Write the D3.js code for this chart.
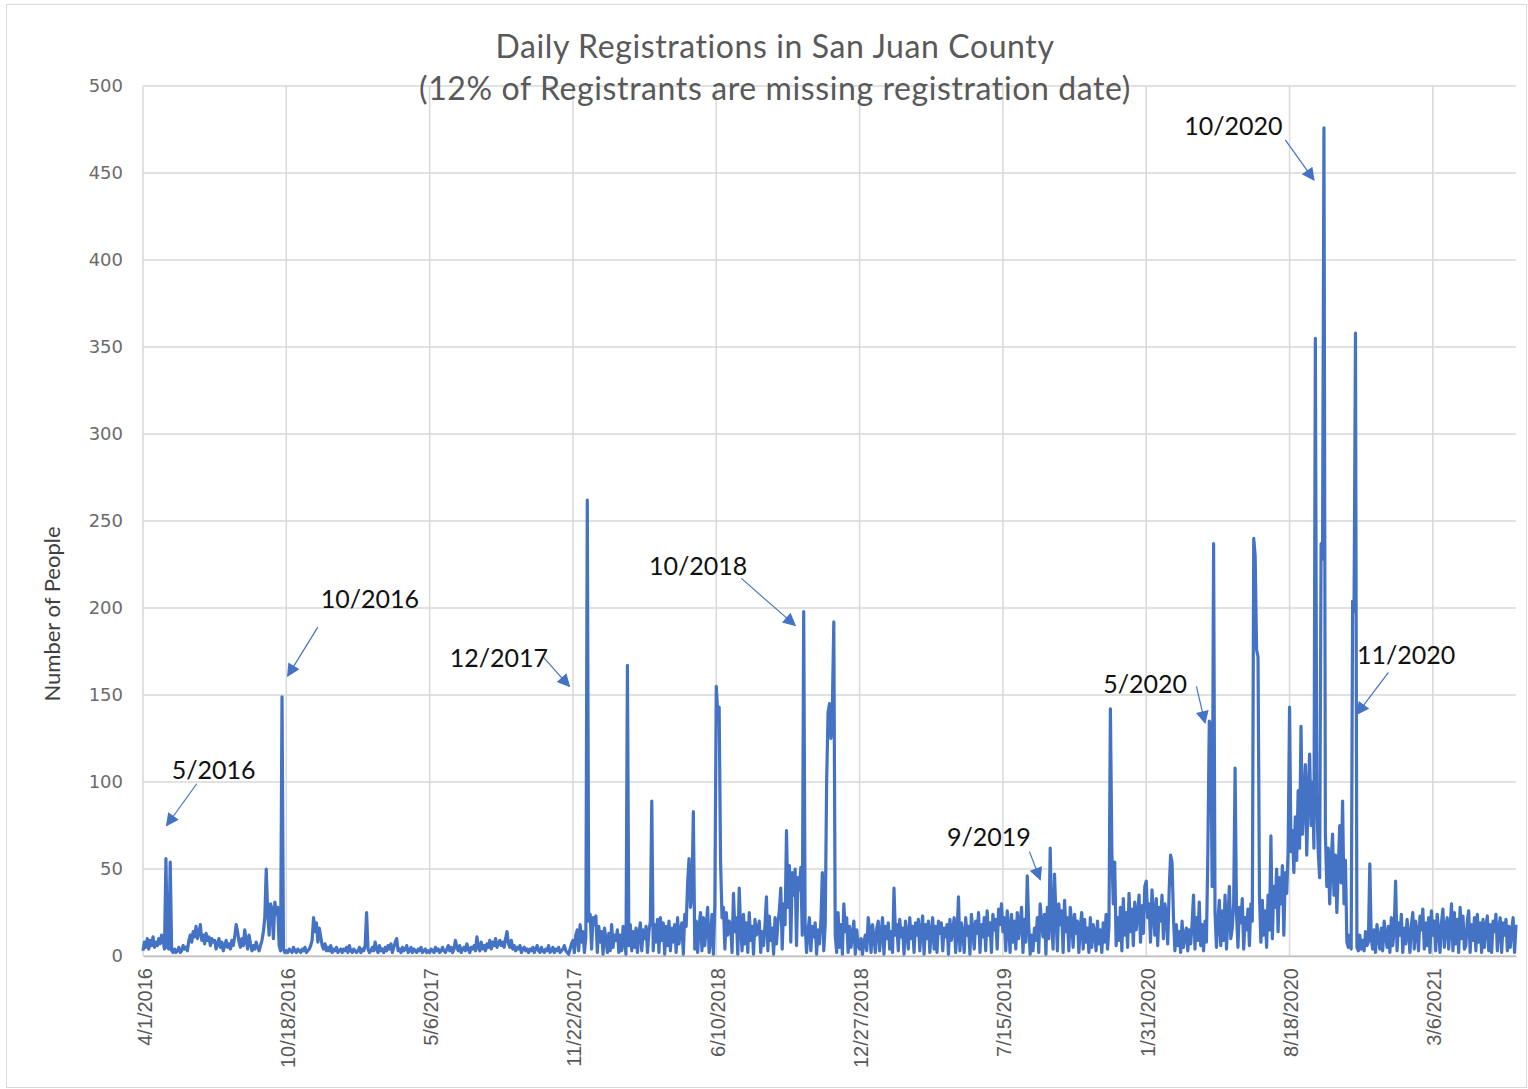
<!DOCTYPE html>
<html>
<head>
<meta charset="UTF-8">
<title>Daily Registrations in San Juan County</title>
<script src="https://cdn.jsdelivr.net/npm/d3@7"></script>
<style>
  body { margin: 0; background: #fff; }
</style>
</head>
<body>
<div id="chart"></div>
<script>

// Registrations, one reading every 2 days, starting 4/1/2016
// one array per 200-day stretch between the axis ticks

var startDate = "2016-04-01";
var stepDays = 2;

var reg_2016a = [
  3, 8, 5, 10, 4, 9, 6, 11, 5, 8,
  6, 10, 7, 12, 9, 4, 56, 5, 4, 54,
  3, 2, 4, 2, 3, 5, 2, 3, 6, 4,
  5, 3, 9, 12, 8, 14, 11, 17, 10, 13,
  18, 9, 12, 7, 13, 9, 11, 6, 10, 8,
  9, 4, 7, 10, 5, 8, 3, 6, 9, 5,
  7, 4, 9, 6, 11, 18, 14, 8, 5, 10,
  6, 15, 9, 4, 12, 7, 3, 6, 4, 8,
  5, 3, 6, 9, 14, 22, 50, 25, 12, 30,
  27, 10, 31, 24, 28, 6, 3, 149, 4, 2
];
var reg_2016b = [
  3, 2, 4, 3, 2, 5, 3, 2, 4, 3,
  2, 4, 3, 5, 2, 3, 4, 6, 9, 22,
  14, 19, 8, 16, 11, 6, 4, 7, 3, 5,
  3, 6, 2, 4, 3, 5, 2, 3, 4, 2,
  4, 3, 5, 2, 6, 3, 2, 4, 3, 2,
  3, 5, 2, 4, 3, 6, 25, 4, 2, 3,
  5, 3, 8, 4, 2, 6, 3, 4, 2, 5,
  3, 6, 4, 7, 2, 5, 8, 10, 3, 4,
  2, 5, 3, 4, 6, 2, 3, 5, 2, 4,
  3, 2, 4, 3, 5, 2, 3, 4, 2, 3
];
var reg_2017a = [
  2, 4, 3, 2, 5, 3, 4, 2, 3, 5,
  3, 2, 4, 6, 3, 5, 2, 4, 9, 5,
  3, 6, 2, 4, 5, 3, 7, 4, 2, 5,
  4, 6, 3, 11, 5, 3, 8, 4, 6, 3,
  7, 5, 9, 4, 8, 6, 10, 5, 7, 9,
  6, 8, 5, 10, 14, 7, 5, 9, 4, 6,
  3, 5, 4, 6, 2, 4, 5, 3, 4, 2,
  4, 3, 5, 2, 4, 6, 3, 2, 5, 3,
  2, 4, 3, 6, 2, 3, 5, 2, 4, 3,
  5, 2, 3, 4, 6, 3, 2, 1, 4, 7
];
var reg_2017b = [
  9, 2, 12, 15, 3, 18, 8, 14, 2, 11,
  262, 20, 24, 4, 22, 18, 23, 2, 17, 8,
  14, 1, 16, 10, 2, 13, 3, 18, 5, 12,
  9, 15, 2, 12, 3, 17, 8, 1, 167, 6,
  18, 3, 14, 5, 16, 2, 13, 19, 3, 15,
  10, 17, 2, 14, 20, 89, 3, 18, 8, 21,
  2, 22, 9, 19, 1, 17, 6, 20, 3, 16,
  8, 18, 2, 22, 7, 15, 19, 1, 24, 17,
  42, 56, 28, 35, 83, 4, 20, 2, 17, 25,
  3, 22, 6, 18, 28, 2, 9, 24, 1, 30
];
var reg_2018a = [
  155, 140, 143, 54, 22, 28, 4, 25, 12, 20,
  18, 2, 36, 14, 22, 1, 39, 16, 3, 24,
  7, 19, 2, 25, 9, 17, 1, 21, 12, 15,
  20, 2, 14, 6, 18, 34, 3, 23, 9, 16,
  1, 22, 7, 19, 26, 39, 4, 30, 18, 72,
  28, 52, 8, 48, 35, 50, 6, 45, 38, 51,
  12, 198, 18, 2, 14, 22, 3, 17, 11, 19,
  1, 15, 7, 20, 48, 3, 18, 100, 140, 145,
  125, 143, 192, 12, 2, 25, 5, 18, 1, 30,
  14, 22, 2, 17, 5, 12, 20, 1, 15, 6
];
var reg_2018b = [
  4, 10, 1, 8, 12, 3, 22, 15, 2, 18,
  11, 2, 16, 20, 3, 13, 22, 1, 17, 10,
  19, 4, 14, 2, 39, 12, 18, 3, 21, 11,
  16, 1, 20, 13, 4, 22, 10, 17, 2, 19,
  12, 21, 3, 15, 23, 1, 18, 10, 20, 2,
  14, 22, 4, 17, 2, 20, 13, 19, 3, 16,
  11, 18, 1, 21, 9, 15, 22, 2, 13, 34,
  3, 19, 14, 2, 22, 12, 17, 1, 24, 15,
  4, 20, 13, 25, 2, 18, 11, 22, 3, 26,
  12, 19, 2, 24, 15, 21, 4, 27, 18, 30
];
var reg_2019 = [
  14, 22, 3, 26, 17, 2, 24, 8, 20, 4,
  25, 10, 19, 28, 2, 21, 8, 46, 18, 1,
  12, 3, 16, 9, 22, 2, 30, 19, 11, 24,
  1, 28, 10, 62, 20, 4, 47, 24, 3, 30,
  18, 26, 2, 32, 14, 22, 3, 28, 19, 5,
  24, 13, 20, 2, 17, 25, 4, 21, 8, 16,
  2, 22, 5, 18, 14, 3, 20, 7, 15, 2,
  19, 8, 24, 4, 17, 142, 60, 30, 54, 6,
  22, 9, 28, 3, 33, 12, 25, 5, 36, 14,
  27, 6, 31, 15, 24, 35, 8, 29, 13, 40
];
var reg_2020a = [
  43, 22, 30, 8, 38, 25, 12, 33, 6, 28,
  20, 35, 10, 30, 24, 7, 38, 58, 54, 22,
  3, 18, 6, 14, 2, 20, 5, 12, 16, 3,
  15, 7, 19, 35, 4, 22, 9, 31, 6, 18,
  3, 20, 8, 60, 135, 133, 40, 237, 25, 5,
  20, 32, 6, 26, 9, 35, 4, 22, 40, 10,
  16, 30, 108, 24, 5, 28, 19, 33, 4, 22,
  15, 27, 6, 30, 20, 240, 230, 176, 172, 35,
  8, 32, 12, 26, 5, 35, 15, 69, 10, 40,
  28, 50, 14, 45, 30, 52, 12, 48, 36, 60
];
var reg_2020b = [
  143, 60, 72, 48, 80, 55, 95, 62, 132, 70,
  88, 110, 58, 95, 116, 75, 100, 62, 355, 90,
  60, 45, 237, 228, 476, 70, 40, 62, 30, 55,
  70, 35, 58, 25, 50, 75, 42, 89, 30, 55,
  8, 5, 12, 4, 204, 198, 358, 5, 3, 12,
  4, 9, 3, 14, 6, 8, 53, 10, 4, 15,
  2, 18, 10, 4, 16, 3, 20, 12, 5, 17,
  2, 22, 6, 15, 43, 3, 19, 12, 24, 2,
  16, 7, 21, 13, 2, 18, 25, 4, 20, 14,
  3, 23, 15, 27, 4, 19, 6, 22, 2, 26
];
var reg_2021 = [
  12, 20, 3, 24, 15, 2, 19, 27, 5, 17,
  22, 4, 16, 30, 3, 25, 7, 21, 2, 28,
  10, 23, 4, 6, 20, 26, 2, 18, 9, 22,
  3, 24, 8, 19, 2, 21, 5, 17, 23, 3,
  18, 2, 20, 14, 24, 3, 16, 22, 2, 19,
  12, 21, 3, 17, 5, 15, 22, 2, 18
];

var tickLabels = ["4/1/2016", "10/18/2016", "5/6/2017", "11/22/2017", "6/10/2018",
                  "12/27/2018", "7/15/2019", "1/31/2020", "8/18/2020", "3/6/2021"];
var yTicks = [0, 50, 100, 150, 200, 250, 300, 350, 400, 450, 500];

// callouts: text anchor and arrow, in days from the start date and people
var noteText = ["5/2016", "10/2016", "12/2017", "10/2018", "9/2019", "5/2020", "10/2020", "11/2020"];
var noteDay  = [40, 248, 428, 706, 1122, 1340, 1453, 1694];
var noteVal  = [102, 200, 166, 219, 63, 151, 472, 168];
var arrowFromDay = [75, 244, 558, 835, 1237, 1470, 1594, 1738];
var arrowFromVal = [99, 189, 172, 217, 60, 155, 469, 163];
var arrowToDay   = [33, 202, 595, 910, 1252, 1482, 1634, 1694];
var arrowToVal   = [75, 161, 155, 190, 44, 134, 446, 139];

// Chart size

var width = 1528;
var height = 1089;
var margin = {top: 86, right: 12, bottom: 133, left: 143};
var w = width - margin.left - margin.right;
var h = height - margin.top - margin.bottom;
var blue = "#4472C4";

var parseIso = d3.timeParse("%Y-%m-%d");
var parseUs = d3.timeParse("%m/%d/%Y");
var start = parseIso(startDate);

var values = [].concat(reg_2016a, reg_2016b, reg_2017a, reg_2017b, reg_2018a,
                       reg_2018b, reg_2019, reg_2020a, reg_2020b, reg_2021);
var points = values.map(function(v, i) {
    return {date: d3.timeDay.offset(start, i * stepDays), value: v};
});
var tickDates = tickLabels.map(parseUs);

var x = d3.scaleTime()
    .domain([start, points[points.length - 1].date])
    .range([0, w]);
var y = d3.scaleLinear()
    .domain([0, 500])
    .range([h, 0]);

var svg = d3.select("#chart")
    .append("svg")
    .attr("width", width)
    .attr("height", height)
    .style("display", "block")
    .style("font-family", "Lato, 'Open Sans', sans-serif");

// chart border
svg.append("rect")
    .attr("x", 6.5).attr("y", 4.5)
    .attr("width", width - 8).attr("height", height - 6)
    .attr("fill", "#fff")
    .attr("stroke", "#d9d9d9");

svg.append("defs").append("marker")
    .attr("id", "head")
    .attr("viewBox", "0 0 10 10")
    .attr("refX", 9).attr("refY", 5)
    .attr("markerWidth", 15).attr("markerHeight", 13)
    .attr("markerUnits", "userSpaceOnUse")
    .attr("orient", "auto")
  .append("path")
    .attr("d", "M0,0 L10,5 L0,10 Z")
    .attr("fill", blue);

var g = svg.append("g")
    .attr("transform", "translate(" + margin.left + "," + margin.top + ")");

// gridlines
g.append("g")
    .selectAll("line.h")
    .data(yTicks)
    .enter().append("line")
    .attr("x1", 0).attr("x2", w)
    .attr("y1", function(d) { return y(d); })
    .attr("y2", function(d) { return y(d); })
    .attr("stroke", "#d9d9d9")
    .attr("stroke-width", 1.5);

g.append("g")
    .selectAll("line.v")
    .data(tickDates)
    .enter().append("line")
    .attr("x1", function(d) { return x(d); })
    .attr("x2", function(d) { return x(d); })
    .attr("y1", 0).attr("y2", h)
    .attr("stroke", "#d9d9d9")
    .attr("stroke-width", 1.5);

// y axis labels
var yAxis = g.append("g")
    .call(d3.axisLeft(y).tickValues(yTicks).tickSize(0).tickPadding(20));
yAxis.select(".domain").remove();
yAxis.selectAll("text")
    .attr("fill", "#6b6b6b")
    .style("font-family", "'DejaVu Sans', Verdana, sans-serif")
    .style("font-size", "18px");

// x axis
var xAxis = g.append("g")
    .attr("transform", "translate(0," + h + ")")
    .call(d3.axisBottom(x).tickValues(tickDates)
        .tickFormat(function(d, i) { return tickLabels[i]; })
        .tickSize(0));
xAxis.select(".domain")
    .attr("stroke", "#bfbfbf")
    .attr("stroke-width", 1.5);
xAxis.selectAll("text")
    .attr("fill", "#595959")
    .style("font-size", "20px")
    .attr("text-anchor", "end")
    .attr("transform", "rotate(-90)")
    .attr("x", -12)
    .attr("y", 0)
    .attr("dy", "0.4em");

// the series
g.append("path")
    .datum(points)
    .attr("fill", "none")
    .attr("stroke", blue)
    .attr("stroke-width", 3.2)
    .attr("stroke-linejoin", "round")
    .attr("d", d3.line()
        .x(function(d) { return x(d.date); })
        .y(function(d) { return y(d.value); }));

// callouts
var notes = noteText.map(function(t, i) {
    return {text: t,
            tx: x(d3.timeDay.offset(start, noteDay[i])), ty: y(noteVal[i]),
            x1: x(d3.timeDay.offset(start, arrowFromDay[i])), y1: y(arrowFromVal[i]),
            x2: x(d3.timeDay.offset(start, arrowToDay[i])), y2: y(arrowToVal[i])};
});

g.selectAll("line.arrow")
    .data(notes)
    .enter().append("line")
    .attr("x1", function(d) { return d.x1; })
    .attr("y1", function(d) { return d.y1; })
    .attr("x2", function(d) { return d.x2; })
    .attr("y2", function(d) { return d.y2; })
    .attr("stroke", blue)
    .attr("stroke-width", 1.2)
    .attr("marker-end", "url(#head)");

g.selectAll("text.note")
    .data(notes)
    .enter().append("text")
    .attr("x", function(d) { return d.tx; })
    .attr("y", function(d) { return d.ty; })
    .attr("fill", "#111")
    .style("font-size", "25px")
    .text(function(d) { return d.text; });

// titles
svg.append("text")
    .attr("x", 775).attr("y", 58)
    .attr("text-anchor", "middle")
    .attr("fill", "#595959")
    .style("font-size", "32px")
    .style("letter-spacing", "0.6px")
    .text("Daily Registrations in San Juan County");
svg.append("text")
    .attr("x", 775).attr("y", 100)
    .attr("text-anchor", "middle")
    .attr("fill", "#595959")
    .style("font-size", "32px")
    .style("letter-spacing", "0.6px")
    .text("(12% of Registrants are missing registration date)");

svg.append("text")
    .attr("transform", "translate(60,614) rotate(-90)")
    .attr("text-anchor", "middle")
    .attr("fill", "#404040")
    .style("font-size", "22px")
    .text("Number of People");

</script>
</body>
</html>
